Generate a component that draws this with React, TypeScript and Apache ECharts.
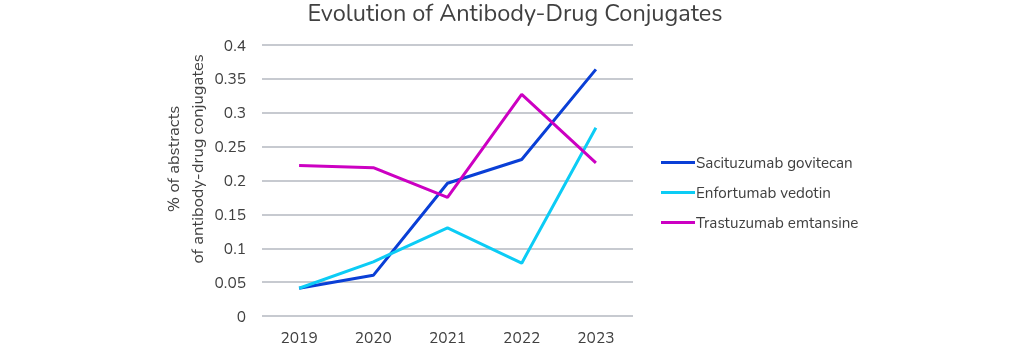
import React, { useEffect, useRef } from "react";
import * as echarts from "echarts";

const years = ["2019", "2020", "2021", "2022", "2023"];
const sacituzumab = [0.041, 0.06, 0.196, 0.231, 0.364];
const enfortumab = [0.041, 0.08, 0.13, 0.078, 0.278];
const trastuzumab = [0.222, 0.219, 0.175, 0.327, 0.226];
const yAxisTitle = ["% of abstracts", "of antibody-drug conjugates"];

const FONT = "Nunito, 'Open Sans', Lato, sans-serif";
const TXT = "#404040";

export default function App() {
  const ref = useRef<HTMLDivElement>(null);
  useEffect(() => {
    const chart = echarts.init(ref.current!, null, { renderer: "svg" });
    const mk = (name: string, data: number[], color: string) => ({
      name,
      type: "line",
      data,
      symbol: "none",
      lineStyle: { width: 3, color },
      itemStyle: { color },
    });
    chart.setOption({
      animation: false,
      textStyle: { fontFamily: FONT },
      title: {
        text: "Evolution of Antibody-Drug Conjugates",
        left: 510,
        textAlign: "center",
        top: -4,
        padding: 5,
        textStyle: { fontSize: 23.5, lineHeight: 24, fontWeight: "normal", color: TXT, fontFamily: FONT },
      },
      grid: { left: 262, right: 391, top: 45, bottom: 27 },
      legend: {
        orient: "vertical",
        left: 656,
        top: 150,
        itemGap: 15,
        itemWidth: 34,
        itemHeight: 20,
        icon: "path://M0,0 L34,0 L34,3 L0,3 Z",
        textStyle: { fontSize: 15.2, color: TXT, fontFamily: FONT, padding: [0, 0, 0, -4] },
        data: ["Sacituzumab govitecan", "Enfortumab vedotin", "Trastuzumab emtansine"],
      },
      graphic: yAxisTitle.map((t, i) => ({
        type: "text",
        x: 173 + i * 24,
        y: 159,
        rotation: Math.PI / 2,
        style: {
          text: t,
          fill: TXT,
          font: `16.5px ${FONT}`,
          textAlign: "center",
          textVerticalAlign: "middle",
        },
      })),
      xAxis: {
        type: "category",
        data: years,
        boundaryGap: true,
        axisLine: { show: false },
        axisTick: { show: false },
        axisLabel: { fontSize: 15.5, lineHeight: 14, color: TXT, margin: 14, fontFamily: FONT },
      },
      yAxis: {
        type: "value",
        min: 0,
        max: 0.4,
        interval: 0.05,
        axisLabel: {
          fontSize: 15.5,
          color: TXT,
          margin: 16,
          fontFamily: FONT,
          formatter: (v: number) => String(parseFloat(v.toFixed(2))),
        },
        splitLine: { lineStyle: { color: "#b4b8c0", width: 1.5 } },
      },
      series: [
        mk("Sacituzumab govitecan", sacituzumab, "#0a3fd6"),
        mk("Enfortumab vedotin", enfortumab, "#0cccf5"),
        mk("Trastuzumab emtansine", trastuzumab, "#cc00c2"),
      ],
    });
    return () => chart.dispose();
  }, []);
  return (
    <div
      ref={ref}
      style={{ position: "fixed", left: 0, top: 0, width: 1024, height: 345 }}
    />
  );
}
